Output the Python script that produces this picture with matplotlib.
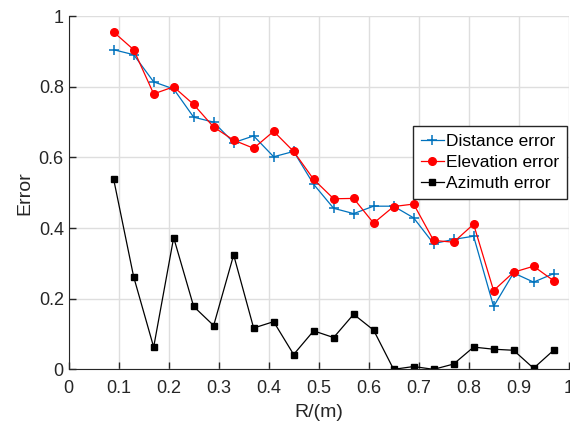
import matplotlib
matplotlib.use('Agg')
import matplotlib.pyplot as plt

# R values (m)
r = [0.09, 0.13, 0.17, 0.21, 0.25, 0.29, 0.33, 0.37, 0.41, 0.45, 0.49, 0.53,
     0.57, 0.61, 0.65, 0.69, 0.73, 0.77, 0.81, 0.85, 0.89, 0.93, 0.97]

distance_err = [0.905, 0.891, 0.814, 0.794, 0.714, 0.700, 0.642, 0.661, 0.602, 0.617,
                0.524, 0.456, 0.441, 0.462, 0.462, 0.429, 0.356, 0.368, 0.377, 0.178,
                0.273, 0.247, 0.271]
elevation_err = [0.955, 0.905, 0.780, 0.800, 0.750, 0.686, 0.649, 0.626, 0.674, 0.617,
                 0.538, 0.483, 0.484, 0.414, 0.461, 0.468, 0.365, 0.360, 0.411, 0.223,
                 0.275, 0.292, 0.251]
azimuth_err = [0.538, 0.262, 0.063, 0.373, 0.178, 0.124, 0.324, 0.117, 0.135, 0.042,
               0.109, 0.090, 0.156, 0.111, 0.000, 0.008, 0.000, 0.015, 0.063, 0.057,
               0.054, 0.003, 0.054]

xticks = [0, 0.1, 0.2, 0.3, 0.4, 0.5, 0.6, 0.7, 0.8, 0.9, 1]
xtick_labels = ['0', '0.1', '0.2', '0.3', '0.4', '0.5', '0.6', '0.7', '0.8', '0.9', '1']
yticks = [0, 0.2, 0.4, 0.6, 0.8, 1]
ytick_labels = ['0', '0.2', '0.4', '0.6', '0.8', '1']

plt.rcParams['font.family'] = ['Liberation Sans', 'DejaVu Sans']

fig = plt.figure(figsize=(5.7, 4.26), dpi=100)
ax = fig.add_axes([0.1205, 0.133, 0.877, 0.829])

ax.plot(r, distance_err, color='#0072BD', marker='+', markersize=6.5, linewidth=0.9,
        markeredgewidth=1.1, label='Distance error')
ax.plot(r, elevation_err, color='red', marker='o', markersize=5.5, linewidth=0.9,
        label='Elevation error')
ax.plot(r, azimuth_err, color='black', marker='s', markersize=4, linewidth=0.9,
        label='Azimuth error')

ax.set_xlim(0, 1)
ax.set_ylim(0, 1)
ax.set_xticks(xticks)
ax.set_xticklabels(xtick_labels)
ax.set_yticks(yticks)
ax.set_yticklabels(ytick_labels)
ax.tick_params(direction='in', length=5, labelsize=13, colors='#262626', width=1)
ax.tick_params(axis='x', pad=8)
ax.grid(True, color='#dedede', linewidth=1)
ax.set_axisbelow(True)
for s in ['top', 'right']:
    ax.spines[s].set_visible(False)
for s in ['left', 'bottom']:
    ax.spines[s].set_color('#262626')

ax.set_xlabel('R/(m)', fontsize=14, color='#262626', labelpad=5)
ax.set_ylabel('Error', fontsize=14, color='#262626')

leg = ax.legend(loc='upper right', bbox_to_anchor=(0.997, 0.688), fontsize=12.5,
                frameon=True, fancybox=False, edgecolor='#262626', framealpha=1,
                borderpad=0.45, labelspacing=0.33, handlelength=1.3, handletextpad=0.15,
                borderaxespad=0)
leg.get_frame().set_linewidth(1)

fig.savefig('out.png', dpi=100)
